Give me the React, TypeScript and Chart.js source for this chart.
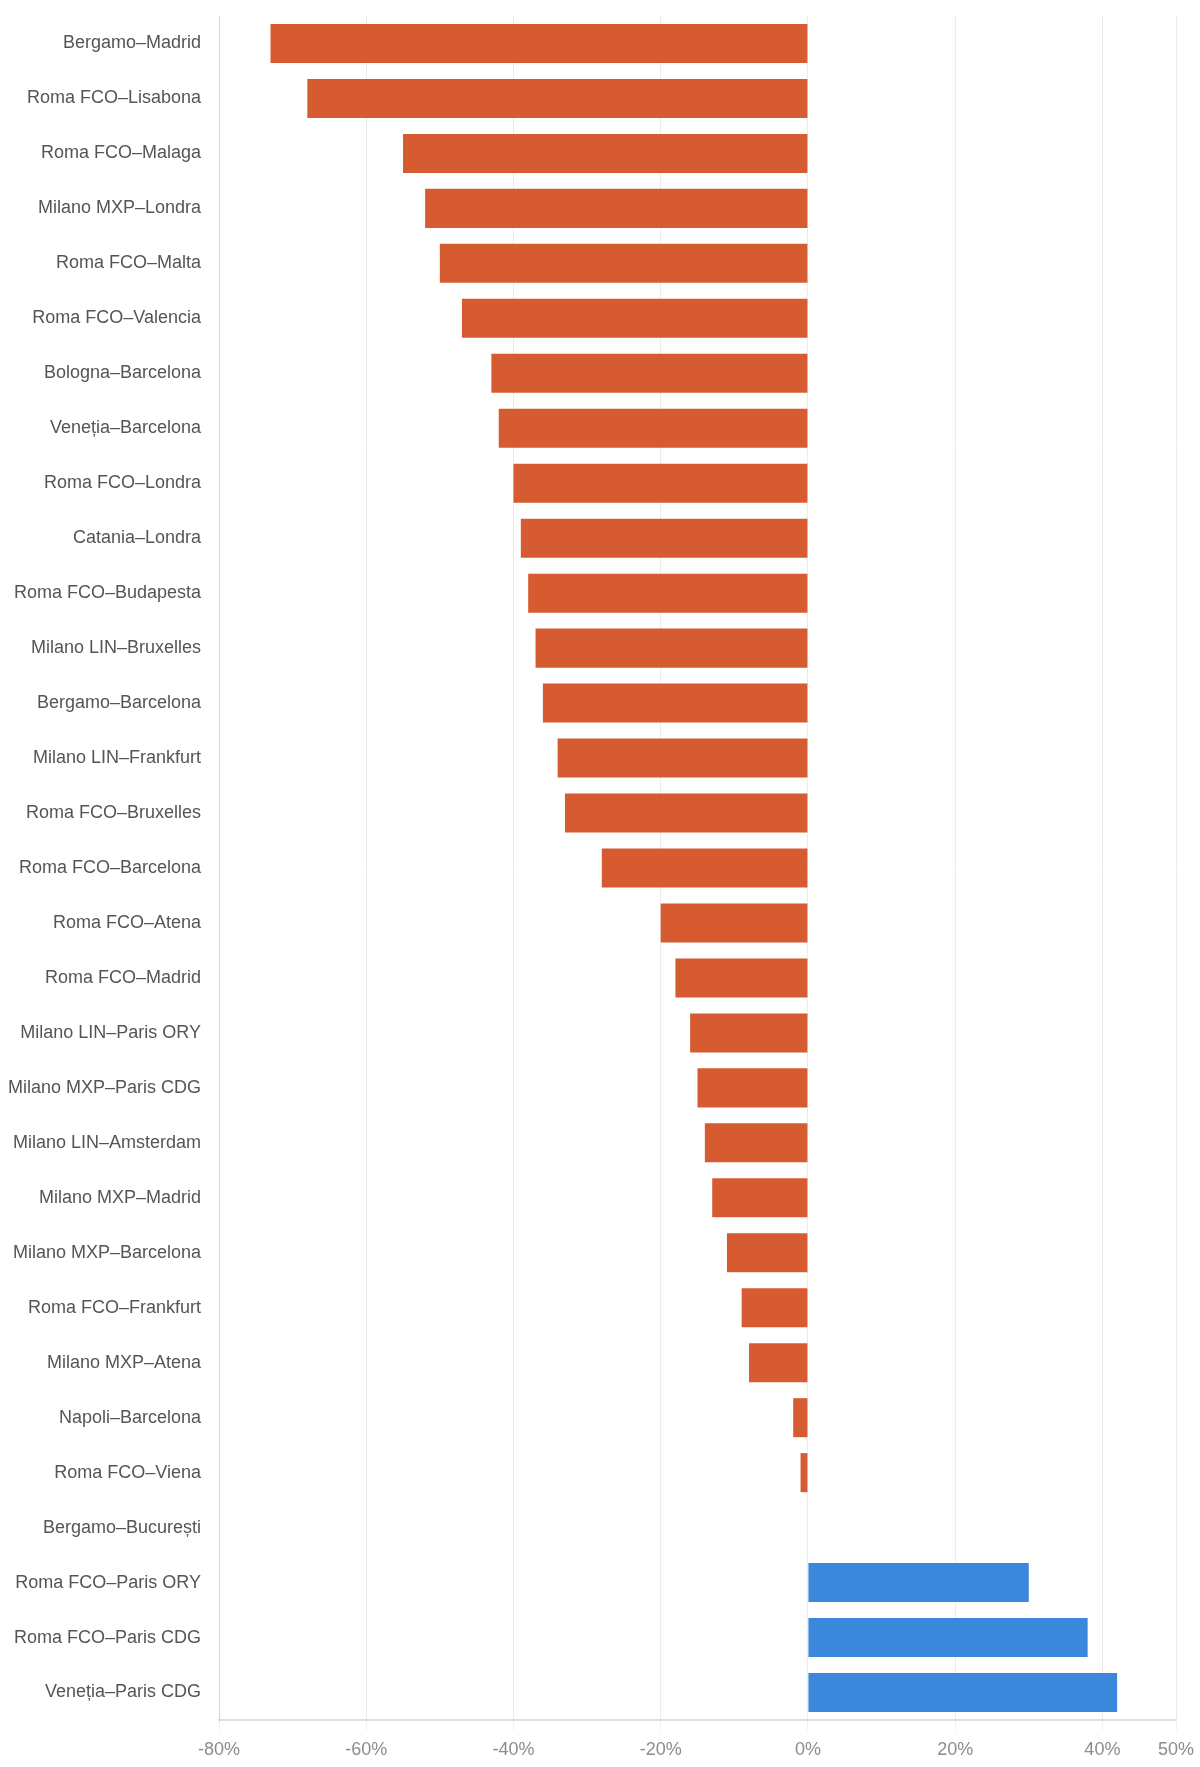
import React, { useEffect, useRef } from "react";
import { Chart, registerables } from "chart.js";

Chart.register(...registerables);

const routes: string[] = [
  "Bergamo–Madrid",
  "Roma FCO–Lisabona",
  "Roma FCO–Malaga",
  "Milano MXP–Londra",
  "Roma FCO–Malta",
  "Roma FCO–Valencia",
  "Bologna–Barcelona",
  "Veneția–Barcelona",
  "Roma FCO–Londra",
  "Catania–Londra",
  "Roma FCO–Budapesta",
  "Milano LIN–Bruxelles",
  "Bergamo–Barcelona",
  "Milano LIN–Frankfurt",
  "Roma FCO–Bruxelles",
  "Roma FCO–Barcelona",
  "Roma FCO–Atena",
  "Roma FCO–Madrid",
  "Milano LIN–Paris ORY",
  "Milano MXP–Paris CDG",
  "Milano LIN–Amsterdam",
  "Milano MXP–Madrid",
  "Milano MXP–Barcelona",
  "Roma FCO–Frankfurt",
  "Milano MXP–Atena",
  "Napoli–Barcelona",
  "Roma FCO–Viena",
  "Bergamo–București",
  "Roma FCO–Paris ORY",
  "Roma FCO–Paris CDG",
  "Veneția–Paris CDG",
];

const changePct: number[] = [
  -73, -68, -55, -52, -50, -47, -43, -42, -40, -39, -38, -37, -36, -34, -33,
  -28, -20, -18, -16, -15, -14, -13, -11, -9, -8, -2, -1, 0, 30, 38, 42,
];

const xTicks: number[] = [-80, -60, -40, -20, 0, 20, 40, 50];

const NEG_COLOR = "#d65b31";
const POS_COLOR = "#3a87db";

export default function App() {
  const canvasRef = useRef<HTMLCanvasElement | null>(null);

  useEffect(() => {
    document.body.style.margin = "0";
    const canvas = canvasRef.current;
    if (!canvas) return;
    const chart = new Chart(canvas, {
      type: "bar",
      data: {
        labels: routes,
        datasets: [
          {
            data: changePct,
            backgroundColor: changePct.map((v) => (v < 0 ? NEG_COLOR : POS_COLOR)),
            borderWidth: 0,
            barPercentage: 0.71,
            categoryPercentage: 1,
          },
        ],
      },
      options: {
        indexAxis: "y",
        responsive: false,
        animation: false,
        layout: { padding: { top: 16, right: 24, bottom: 0, left: 0 } },
        plugins: {
          legend: { display: false },
          tooltip: { enabled: false },
        },
        scales: {
          x: {
            type: "linear",
            min: -80,
            max: 50,
            afterBuildTicks: (scale: any) => {
              scale.ticks = xTicks.map((v) => ({ value: v }));
            },
            afterFit: (scale: any) => {
              scale.height = 47;
              scale.paddingLeft = 0;
              scale.paddingRight = 0;
            },
            grid: {
              color: "#ececec",
              lineWidth: 1,
              drawTicks: true,
              tickLength: 10,
              tickColor: "#f0f0f0",
            },
            border: { display: true, color: "#dedede", width: 2 },
            ticks: {
              autoSkip: false,
              maxRotation: 0,
              padding: 9,
              color: "#8c8c8c",
              font: { family: "'Liberation Sans', Arial, sans-serif", size: 18 },
              callback: (v: any) => `${v}%`,
            },
          },
          y: {
            afterFit: (scale: any) => {
              scale.width = 219;
              scale.paddingTop = 0;
              scale.paddingBottom = 0;
            },
            grid: { display: false, drawTicks: false },
            border: { display: true, color: "#d4d4d4", width: 1 },
            ticks: {
              autoSkip: false,
              padding: 18,
              color: "#555555",
              font: { family: "'Liberation Sans', Arial, sans-serif", size: 18 },
            },
          },
        },
      },
    });
    return () => chart.destroy();
  }, []);

  return (
    <div style={{ width: 1200, height: 1767, background: "#ffffff" }}>
      <canvas ref={canvasRef} width={1200} height={1767} style={{ display: "block" }} />
    </div>
  );
}
